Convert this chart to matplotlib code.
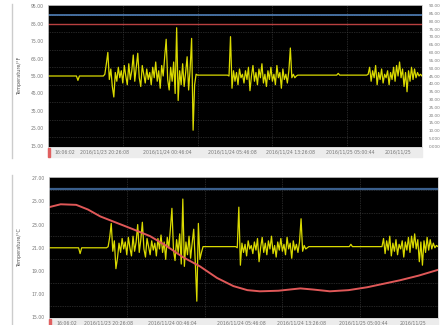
import numpy as np
import matplotlib
matplotlib.use("Agg")
import matplotlib.pyplot as plt
from matplotlib.patches import Rectangle
from matplotlib.lines import Line2D

# ---- data (hours since start of log) ----
x_labels = ["16:06:02", "2016/11/23 20:26:08", "2016/11/24 00:46:04",
            "2016/11/24 05:46:08", "2016/11/24 13:26:08",
            "2016/11/25 05:00:44", "2016/11/25"]
x_label_pos = [2.3, 7.6, 15.9, 24.7, 32.4, 40.4, 46.8]

# top panel (degF)
top_flat_t = [0, 3.8, 4.0, 4.2, 7.4]
top_flat_v = [55, 55, 52.5, 55, 55]
top_seg1 = [56, 62, 68.5, 53, 59, 49, 43, 57, 52, 60, 54, 58, 51, 61, 55, 50,
            62, 53, 58, 67, 52, 60, 68, 54, 49, 61, 56, 51, 59, 53, 57, 50,
            60, 54, 63, 52, 58, 48, 61, 55, 66, 76, 53, 47, 60, 52, 63, 45,
            82.6, 41, 58, 50, 62, 49, 57, 66, 47, 59, 76.5, 24, 50, 56]
top_mid_t = [20.0, 24.0]
top_mid_v = [55.5, 55.5]
top_seg2 = [55, 77.5, 48, 58, 52, 57, 50, 59, 54, 56, 51, 58, 53, 60, 46.6,
            55, 61, 52, 57, 50, 59, 54, 62, 51, 56, 49, 58, 53, 60, 52, 56,
            50, 61, 54, 57, 48, 59, 53, 56, 51, 58, 71, 54, 56, 54, 55]
top_late_t = [33.4, 38.6, 38.8, 39.0, 42.6]
top_late_v = [55.5, 55.5, 56.5, 55.5, 55.5]
top_seg3 = [56, 60, 52, 58, 54, 61, 50, 57, 53, 59, 51, 56, 54, 58, 50, 57,
            53, 60, 52, 61, 55, 63, 54, 59, 49, 57, 46, 58, 52, 60, 53, 59,
            54, 57, 55, 56, 55]
top_blue = 90.0
top_red = 84.5

# bottom panel (degC)
bot_flat_t = [0, 3.8, 4.0, 4.2, 7.4]
bot_flat_v = [21.0, 21.0, 20.5, 21.0, 21.0]
bot_seg1 = [21.1, 21.9, 23.1, 20.7, 21.6, 19.2, 20.1, 21.4, 20.6, 21.8, 20.9,
            21.5, 20.4, 21.9, 21.0, 20.3, 22.0, 20.7, 21.5, 23.0, 20.6, 21.7,
            23.2, 20.9, 20.2, 21.8, 21.1, 20.4, 21.6, 20.8, 21.4, 20.3, 21.8,
            20.9, 22.1, 20.6, 21.5, 20.0, 21.9, 21.0, 22.6, 24.4, 20.8, 19.9,
            21.7, 20.6, 22.2, 19.6, 25.2, 19.4, 21.5, 20.4, 22.0, 20.1, 21.4,
            22.6, 19.8, 16.4, 23.1, 20.0, 20.6, 21.1]
bot_mid_t = [20.0, 24.0]
bot_mid_v = [21.1, 21.1]
bot_seg2 = [21.0, 24.5, 19.5, 21.4, 20.6, 21.3, 20.3, 21.6, 20.9, 21.2, 20.5,
            21.5, 20.8, 21.8, 19.8, 21.0, 21.9, 20.6, 21.4, 20.4, 21.6, 20.9,
            22.0, 20.5, 21.2, 20.2, 21.5, 20.8, 21.8, 20.7, 21.3, 20.4, 21.9,
            20.9, 21.4, 20.1, 21.6, 20.8, 21.3, 20.6, 21.5, 23.5, 20.7, 21.2,
            20.9, 21.0]
bot_late_t = [33.4, 38.6, 38.8, 39.0, 42.6]
bot_late_v = [21.1, 21.1, 21.3, 21.1, 21.1]
bot_seg3 = [21.1, 21.8, 20.5, 21.6, 20.8, 22.0, 20.3, 21.4, 20.7, 21.7, 20.4,
            21.3, 20.9, 21.6, 20.2, 21.5, 20.8, 21.9, 20.6, 22.0, 21.0, 22.2,
            20.9, 21.7, 19.8, 21.5, 19.5, 21.6, 20.6, 21.9, 20.8, 21.7, 20.9,
            21.4, 21.0, 21.2, 21.1]
bot_blue = 26.1
red_t = [0, 1.5, 3.5, 5.0, 6.6, 8.7, 10.8, 13.0, 15.0, 17.2, 19.4, 21.6, 23.7,
         25.5, 27.1, 29.5, 32.3, 34.0, 36.1, 38.5, 40.9, 43.0, 45.1, 47.5, 50.0]
red_v = [24.5, 24.75, 24.7, 24.3, 23.7, 23.15, 22.6, 22.0, 21.2, 20.2, 19.4,
         18.4, 17.7, 17.35, 17.25, 17.3, 17.5, 17.4, 17.25, 17.35, 17.6, 17.9,
         18.2, 18.6, 19.1]

top_ticks = [95, 85, 75, 65, 55, 45, 35, 25, 15]
right_ticks = list(range(90, -1, -5))
right_labels = ["%.2f" % v if v >= 10 else "%.3f" % v for v in right_ticks]
bot_ticks = [27, 25, 23, 21, 19, 17, 15]


def build(flat, seg1, mid, seg2, late, seg3):
    t = list(flat[0]) + list(7.6 + 0.2 * np.arange(len(seg1))) + list(mid[0]) \
        + list(24.2 + 0.2 * np.arange(len(seg2))) + list(late[0]) \
        + list(42.8 + 0.2 * np.arange(len(seg3)))
    v = list(flat[1]) + seg1 + list(mid[1]) + seg2 + list(late[1]) + seg3
    return t, v


YELLOW = "#dada00"
GRID = "#4a4a4a"
TXT = "#777777"

fig = plt.figure(figsize=(4.42, 3.25), dpi=100)
W, H = 442.0, 325.0


def px_axes(x0, y0, x1, y1):
    return fig.add_axes([x0 / W, 1 - y1 / H, (x1 - x0) / W, (y1 - y0) / H])


def style(ax, ticks, lo, hi, minor):
    ax.set_facecolor("black")
    ax.set_xlim(0, 50)
    ax.set_ylim(lo, hi)
    ax.set_yticks(ticks)
    ax.set_yticklabels(["%.2f" % t for t in ticks])
    ax.set_yticks(minor, minor=True)
    ax.set_xticks([10, 20, 30, 40], minor=True)
    ax.set_xticks(x_label_pos)
    ax.set_xticklabels(x_labels)
    ax.tick_params(axis="both", which="both", length=0, labelsize=3.3,
                   colors=TXT, pad=3)
    ax.tick_params(axis="x", pad=2)
    ax.grid(True, which="minor", color=GRID, linestyle=(0, (1, 1.5)), lw=0.5)
    for s in ax.spines.values():
        s.set_color("#cfcfcf")
        s.set_linewidth(0.6)


# top panel
ax1 = px_axes(48, 5, 422, 147)
style(ax1, top_ticks, 14.4, 95.6, list(range(20, 95, 5)))
ax1.axhline(top_blue, color="#4f7fb8", lw=1.2)
ax1.axhline(top_red, color="#b84040", lw=1.0)
t1, v1 = build((top_flat_t, top_flat_v), top_seg1, (top_mid_t, top_mid_v),
               top_seg2, (top_late_t, top_late_v), top_seg3)
ax1.plot(t1, v1, color=YELLOW, lw=0.9)
ax1.set_ylabel("Temperature/°F", fontsize=3.5, color="#555555")
ax1.yaxis.set_label_coords(-0.07, 0.5)

axr = ax1.twinx()
axr.set_ylim(-0.5, 90.5)
axr.set_yticks(right_ticks)
axr.set_yticklabels(right_labels)
axr.tick_params(length=0, labelsize=3.0, colors=TXT, pad=5)
for s in axr.spines.values():
    s.set_visible(False)

# bottom panel
ax2 = px_axes(49, 177, 438, 318)
style(ax2, bot_ticks, 14.95, 27.1, list(range(16, 27)))
ax2.axhline(bot_blue, color="#3a5f8c", lw=1.6)
t2, v2 = build((bot_flat_t, bot_flat_v), bot_seg1, (bot_mid_t, bot_mid_v),
               bot_seg2, (bot_late_t, bot_late_v), bot_seg3)
ax2.plot(t2, v2, color=YELLOW, lw=0.9)
ax2.plot(red_t, red_v, color="#e05858", lw=1.4)
ax2.set_ylabel("Temperature/°C", fontsize=3.5, color="#555555")
ax2.yaxis.set_label_coords(-0.069, 0.5)

# label strips, red markers and left frame lines
for (x0, y0, x1, y1) in [(48, 148, 422, 157), (49, 319, 438, 325)]:
    fig.patches.append(Rectangle((x0 / W, 1 - y1 / H), (x1 - x0) / W,
                                 (y1 - y0) / H, transform=fig.transFigure,
                                 color="#ececec", zorder=-1))
    fig.patches.append(Rectangle((x0 / W, 1 - y1 / H), 2 / W, (y1 - y0) / H,
                                 transform=fig.transFigure, color="#e06060",
                                 zorder=0))
for (y0, y1) in [(4, 158), (175, 325)]:
    fig.lines.append(Line2D([12 / W, 12 / W], [1 - y0 / H, 1 - y1 / H],
                            transform=fig.transFigure, color="#cccccc", lw=1))

fig.savefig("out.png", dpi=100, facecolor="white")
